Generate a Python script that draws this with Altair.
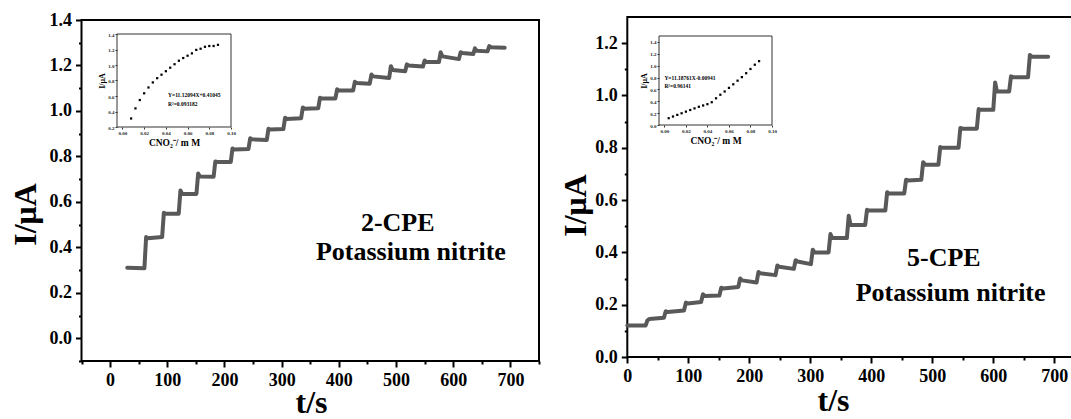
import altair as alt
import pandas as pd

FONT = "Liberation Serif, Times New Roman, serif"

# ---------------- left panel: 2-CPE ----------------
L_step_t = [30, 60, 91, 120, 151, 181, 211, 242, 274, 303, 334, 364, 394, 425, 454, 488, 516, 547, 575, 610, 635, 660]
L_end_t = 690
L_start = [0.310, 0.440, 0.548, 0.635, 0.712, 0.775, 0.830, 0.875, 0.918, 0.965, 1.010, 1.055, 1.090, 1.123, 1.152, 1.180, 1.200, 1.215, 1.240, 1.255, 1.265, 1.280]
L_end = [0.308, 0.445, 0.548, 0.635, 0.710, 0.775, 0.833, 0.872, 0.920, 0.968, 1.012, 1.055, 1.090, 1.120, 1.145, 1.175, 1.195, 1.215, 1.228, 1.250, 1.262, 1.278]
L_peak = [0.310, 0.445, 0.552, 0.650, 0.725, 0.778, 0.835, 0.880, 0.922, 0.970, 1.015, 1.058, 1.095, 1.128, 1.160, 1.197, 1.205, 1.222, 1.258, 1.258, 1.275, 1.285]

# left inset
Li_conc = [0.008, 0.012, 0.016, 0.020, 0.024, 0.028, 0.032, 0.036, 0.040, 0.044, 0.048,
           0.052, 0.056, 0.060, 0.064, 0.068, 0.072, 0.076, 0.080, 0.084, 0.088]
Li_val = [0.31, 0.44, 0.548, 0.635, 0.71, 0.775, 0.83, 0.875, 0.92, 0.965, 1.01,
          1.055, 1.09, 1.12, 1.15, 1.195, 1.21, 1.235, 1.245, 1.245, 1.26]

# ---------------- right panel: 5-CPE ----------------
R_step_t = [0, 30, 60, 93, 121, 151, 182, 212, 243, 273, 301, 330, 360, 390, 423, 454, 482, 510, 543, 573, 600, 626, 657]
R_end_t = 690
R_start = [0.120, 0.145, 0.172, 0.205, 0.233, 0.262, 0.293, 0.320, 0.345, 0.365, 0.400, 0.455, 0.505, 0.560, 0.625, 0.675, 0.735, 0.800, 0.873, 0.945, 1.015, 1.070, 1.148]
R_end = [0.120, 0.150, 0.178, 0.210, 0.235, 0.268, 0.285, 0.313, 0.337, 0.355, 0.400, 0.455, 0.505, 0.560, 0.625, 0.678, 0.735, 0.800, 0.873, 0.945, 1.015, 1.070, 1.148]
R_peak = [0.120, 0.140, 0.175, 0.208, 0.240, 0.265, 0.300, 0.325, 0.350, 0.370, 0.410, 0.470, 0.540, 0.563, 0.630, 0.678, 0.745, 0.803, 0.876, 0.948, 1.050, 1.073, 1.155]

# right inset
Ri_conc = [0.004, 0.008, 0.012, 0.016, 0.020, 0.024, 0.028, 0.032, 0.036, 0.040, 0.044,
           0.048, 0.052, 0.056, 0.060, 0.064, 0.068, 0.072, 0.076, 0.080, 0.084, 0.088]
Ri_val = [0.115, 0.143, 0.170, 0.198, 0.225, 0.253, 0.280, 0.307, 0.329, 0.351, 0.384,
          0.450, 0.510, 0.565, 0.626, 0.686, 0.747, 0.807, 0.873, 0.944, 1.016, 1.076]

x_major = [0, 100, 200, 300, 400, 500, 600, 700]
x_minor = [50, 150, 250, 350, 450, 550, 650]
L_x_minor = [-50, 50, 150, 250, 350, 450, 550, 650, 750]
L_y_major = [0.0, 0.2, 0.4, 0.6, 0.8, 1.0, 1.2, 1.4]
L_y_minor = [-0.1, 0.1, 0.3, 0.5, 0.7, 0.9, 1.1, 1.3]
R_y_major = [0.0, 0.2, 0.4, 0.6, 0.8, 1.0, 1.2]
R_y_minor = [0.1, 0.3, 0.5, 0.7, 0.9, 1.1]
Li_y_ticks = [0.2, 0.4, 0.6, 0.8, 1.0, 1.2, 1.4]
Ri_y_ticks = [0.0, 0.2, 0.4, 0.6, 0.8, 1.0, 1.2, 1.4]
inset_x_ticks = [0.0, 0.02, 0.04, 0.06, 0.08, 0.10]

W, H = 1071, 419


def trace(step_t, end_t, start, end, peak):
    rows = []
    for i, t in enumerate(step_t):
        t_next = step_t[i + 1] if i + 1 < len(step_t) else end_t
        if i == 0:
            rows.append((t, start[0]))
        else:
            rows.append((t + 3, peak[i]))
            rows.append((t + 6, start[i]))
        rows.append((t_next, end[i]))
    return pd.DataFrame(rows, columns=["t", "i"])


def scale(domain, rng):
    return alt.Scale(domain=domain, range=rng, nice=False, zero=False)


def axis_major(orient, offset, values, fmt, size=18, tick=6, tickw=2):
    return alt.Axis(orient=orient, offset=offset, values=values, format=fmt,
                    domain=False, grid=False, ticks=True, tickSize=tick, tickWidth=tickw,
                    tickColor="black", labelFont=FONT, labelFontWeight="bold",
                    labelFontSize=size, labelColor="black", labelPadding=4,
                    labelFlush=False, labelOverlap=False, title=None)


def axis_minor(orient, offset, values, tick=3, tickw=2):
    return alt.Axis(orient=orient, offset=offset, values=values, labels=False,
                    domain=False, grid=False, ticks=True, tickSize=tick, tickWidth=tickw,
                    tickColor="black", title=None)


def panel(pl):
    xs = scale(pl["xdom"], pl["xr"])
    ys = scale(pl["ydom"], pl["yr"])
    yoff = -pl["xr"][0]
    xoff = -(H - pl["yr"][0])
    layers = []
    frame = pd.DataFrame([{"x0": pl["frame_x"][0], "x1": pl["frame_x"][1],
                           "y0": pl["ydom"][0], "y1": pl["ydom"][1]}])
    layers.append(
        alt.Chart(frame).mark_rect(fillOpacity=0, stroke="black", strokeWidth=2).encode(
            x=alt.X("x0:Q", scale=xs, axis=axis_major("bottom", xoff, x_major, "d")),
            x2="x1:Q",
            y=alt.Y("y0:Q", scale=ys, axis=axis_major("left", yoff, pl["ymaj"], ".1f")),
            y2="y1:Q",
        )
    )
    layers.append(
        alt.Chart(pl["trace"]).mark_line(color="#595959", strokeWidth=4, strokeJoin="round",
                                         strokeCap="round").encode(
            x=alt.X("t:Q", scale=xs, axis=None),
            y=alt.Y("i:Q", scale=ys, axis=None),
        )
    )
    txt = pd.DataFrame(pl["labels"])
    layers.append(
        alt.Chart(txt).mark_text(font=FONT, fontWeight="bold", fontSize=26, color="black").encode(
            x=alt.X("x:Q", scale=xs, axis=axis_minor("bottom", xoff, pl["xmin"])),
            y=alt.Y("y:Q", scale=ys, axis=axis_minor("left", yoff, pl["ymin"])),
            text="s:N",
        )
    )
    ttl = pd.DataFrame([{"a": pl["xdom"][0], "b": pl["ydom"][0]}])
    layers.append(
        alt.Chart(ttl).mark_point(opacity=0).encode(
            x=alt.X("a:Q", scale=xs, axis=alt.Axis(orient="bottom", offset=xoff, values=[], domain=False,
                                                   ticks=False, labels=False, grid=False, title="t/s",
                                                   titleFont=FONT, titleFontWeight="bold", titleFontSize=32,
                                                   titleColor="black", titleX=pl["tx"], titleY=pl["ty"],
                                                   titleBaseline="alphabetic", titleAlign="center")),
            y=alt.Y("b:Q", scale=ys, axis=alt.Axis(orient="left", offset=yoff, values=[], domain=False,
                                                   ticks=False, labels=False, grid=False, title="I/μA",
                                                   titleFont=FONT, titleFontWeight="bold", titleFontSize=32,
                                                   titleColor="black", titleX=pl["ix"], titleY=pl["iy"],
                                                   titleAngle=270, titleBaseline="alphabetic",
                                                   titleAlign="center")),
        )
    )
    return layers


def inset(ins):
    xs = scale(ins["xdom"], ins["xr"])
    ys = scale(ins["ydom"], ins["yr"])
    yoff = -ins["xr"][0]
    xoff = -(H - ins["yr"][0])
    frame = pd.DataFrame([{"x0": ins["xdom"][0], "x1": ins["xdom"][1],
                           "y0": ins["ydom"][0], "y1": ins["ydom"][1]}])
    small = dict(labelFont=FONT, labelFontWeight="bold", labelFontSize=5, labelColor="#222",
                 labelPadding=1, labelFlush=False, labelOverlap=False, domain=False, grid=False,
                 ticks=True, tickSize=2, tickWidth=1, tickColor="#333",
                 titleFont=FONT, titleFontWeight="bold", titleColor="black")
    layers = [
        alt.Chart(frame).mark_rect(fillOpacity=0, stroke="#333", strokeWidth=1).encode(
            x=alt.X("x0:Q", scale=xs, axis=alt.Axis(orient="bottom", offset=xoff, values=inset_x_ticks,
                                                    format=".2f", title="CNO₂⁻/ m M", titleFontSize=9.5,
                                                    titlePadding=2, **small)),
            x2="x1:Q",
            y=alt.Y("y0:Q", scale=ys, axis=alt.Axis(orient="left", offset=yoff, values=ins["yticks"],
                                                    format=".1f", title="I/μA", titleFontSize=8,
                                                    titlePadding=1, **small)),
            y2="y1:Q",
        ),
        alt.Chart(pd.DataFrame({"c": ins["conc"], "v": ins["val"]})).mark_square(
            size=5, color="black", opacity=1).encode(
            x=alt.X("c:Q", scale=xs, axis=None),
            y=alt.Y("v:Q", scale=ys, axis=None),
        ),
        alt.Chart(pd.DataFrame(ins["eq"])).mark_text(
            font=FONT, fontWeight="bold", fontSize=5.5, align="left", color="black").encode(
            x=alt.X("x:Q", scale=xs, axis=None),
            y=alt.Y("y:Q", scale=ys, axis=None),
            text="s:N",
        ),
    ]
    return layers


left = dict(
    xdom=[-50, 750], xr=[81.5, 539], ydom=[-0.1, 1.4], yr=[361, 20], frame_x=[-50, 750],
    ymaj=L_y_major, ymin=L_y_minor, xmin=L_x_minor,
    trace=trace(L_step_t, L_end_t, L_start, L_end, L_peak),
    labels=[{"x": 503, "y": 0.507, "s": "2-CPE"}, {"x": 526, "y": 0.379, "s": "Potassium nitrite"}],
    tx=311, ty=51, ix=-46, iy=214,
)
right = dict(
    xdom=[0, 727.4], xr=[627.3, 1071], ydom=[0, 1.3], yr=[357, 17], frame_x=[0, 760],
    ymaj=R_y_major, ymin=R_y_minor, xmin=x_minor,
    trace=trace(R_step_t, R_end_t, R_start, R_end, R_peak),
    labels=[{"x": 519, "y": 0.379, "s": "5-CPE"}, {"x": 530, "y": 0.245, "s": "Potassium nitrite"}],
    tx=833, ty=53, ix=-42, iy=205,
)
left_inset = dict(
    xdom=[-0.005, 0.10], xr=[117, 231], ydom=[0.2, 1.4], yr=[127, 34], yticks=Li_y_ticks,
    conc=Li_conc, val=Li_val,
    eq=[{"x": 0.042, "y": 0.61, "s": "Y=11.12094X+0.41045"}, {"x": 0.042, "y": 0.50, "s": "R²=0.093182"}],
)
right_inset = dict(
    xdom=[-0.005, 0.10], xr=[659, 772], ydom=[0, 1.5], yr=[125, 36], yticks=Ri_y_ticks,
    conc=Ri_conc, val=Ri_val,
    eq=[{"x": 0.0, "y": 0.80, "s": "Y=11.18761X-0.00941"}, {"x": 0.0, "y": 0.66, "s": "R²=0.96141"}],
)

layers = panel(left) + inset(left_inset) + panel(right) + inset(right_inset)

chart = alt.layer(*layers).resolve_scale(x="independent", y="independent").resolve_axis(
    x="independent", y="independent"
).properties(
    width=W, height=H, padding=0, autosize=alt.AutoSizeParams(type="none"), background="white"
).configure_view(strokeWidth=0)

chart.save("out.html", embed_options={"renderer": "svg", "actions": False})
